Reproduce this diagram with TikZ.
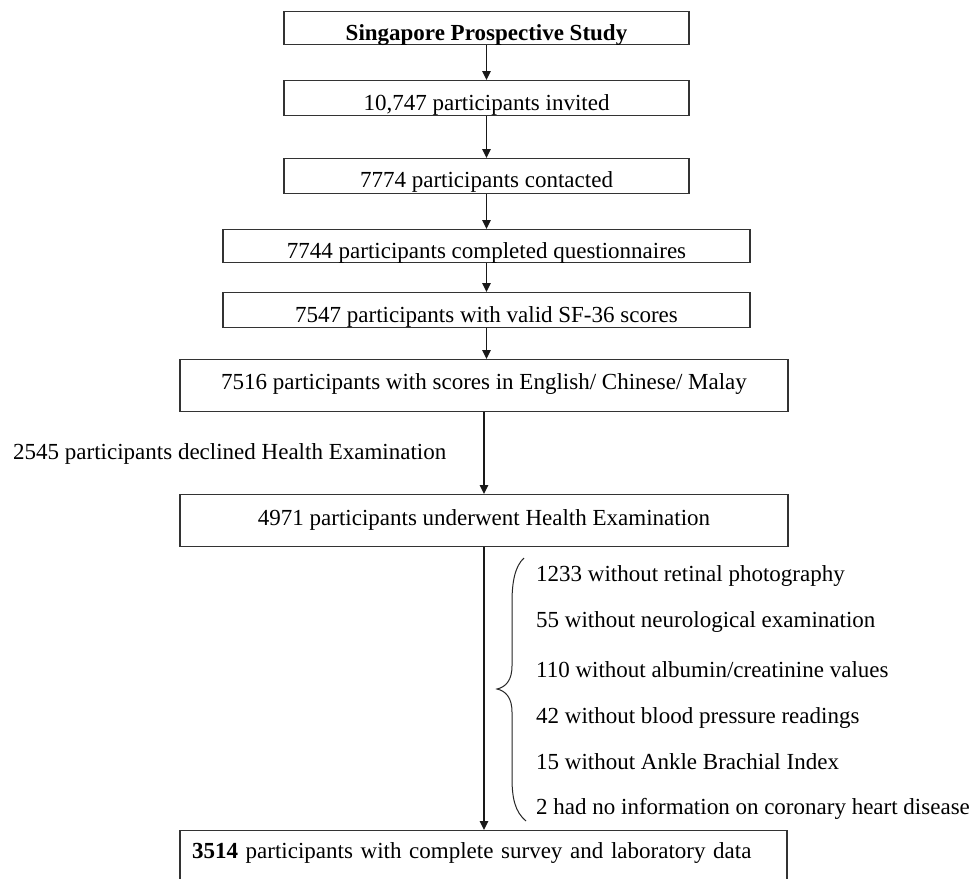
\documentclass[tikz,border=0pt]{standalone}
\usepackage{fontspec}
\setmainfont{Liberation Serif}
\usetikzlibrary{arrows.meta}
\begin{document}
\begin{tikzpicture}[x=1pt,y=-1pt,
  every node/.style={font=\fontsize{23}{27}\selectfont},
  box/.style={draw=black!80, line width=1.4pt, inner sep=0pt, minimum height=0pt, anchor=north},
  arr/.style={-{Triangle[length=9pt,width=8.5pt]}, line width=1.3pt, draw=black!90},
  note/.style={anchor=base west, inner sep=0pt}]
\clip (0,0) rectangle (976,878);
\fill[white] (0,0) rectangle (976,878);
% boxes
\node[box, minimum width=405pt, text height=29pt, text depth=4pt] (b1) at (486.5,11) {\textbf{Singapore Prospective Study}};
\node[box, minimum width=405pt, text height=30pt, text depth=5pt] (b2) at (486.5,80) {10,747 participants invited};
\node[box, minimum width=405pt, text height=29pt, text depth=6pt] (b3) at (486.5,158) {7774 participants contacted};
\node[box, minimum width=527pt, text height=29pt, text depth=4pt] (b4) at (486.5,229) {7744 participants completed questionnaires};
\node[box, minimum width=527pt, text height=30pt, text depth=5pt] (b5) at (486.5,292) {7547 participants with valid SF-36 scores};
\node[box, minimum width=608pt, text height=30pt, text depth=22pt] (b6) at (484,359) {7516 participants with scores in English/ Chinese/ Malay};
\node[box, minimum width=608pt, text height=31pt, text depth=21pt] (b7) at (484,494) {4971 participants underwent Health Examination};
\node[box, inner xsep=12pt, text width=583pt, align=left, text height=28pt, text depth=32pt] (b8) at (483.5,830) {\textbf{3514} participants with complete survey and laboratory data};
% side notes
\node[note] (decl) at (13,459) {2545 participants declined Health Examination};
\node[note] (e1) at (536,581) {1233 without retinal photography};
\node[note] (e2) at (536,627) {55 without neurological examination};
\node[note] (e3) at (536,677) {110 without albumin/creatinine values};
\node[note] (e4) at (536,723) {42 without blood pressure readings};
\node[note] (e5) at (536,769) {15 without Ankle Brachial Index};
\node[note] (e6) at (536,814) {2 had no information on coronary heart disease};
% connectors
\draw[arr] (b1.south) -- (b2.north);
\draw[arr] (b2.south) -- (b3.north);
\draw[arr] (b3.south) -- (b4.north);
\draw[arr] (b4.south) -- (b5.north);
\draw[arr] (b5.south) -- (b5.south |- b6.north);
\draw[arr] (b6.south) -- (b7.north);
\draw[arr] (b7.south) -- (b7.south |- b8.north);
% brace
\draw[line width=1pt, black!85] (524,558) .. controls (515,566) and (512,582) .. (512,602) -- (512,666) .. controls (512,680) and (506,687) .. (497,689) .. controls (506,691) and (512,698) .. (512,712) -- (512,778) .. controls (512,798) and (515,812) .. (526,821);
\end{tikzpicture}
\end{document}
